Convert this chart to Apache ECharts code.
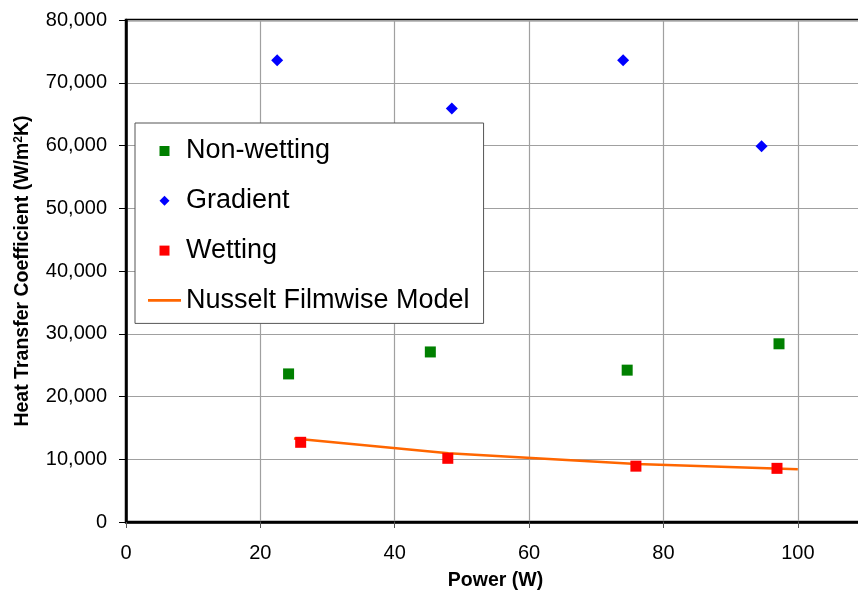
<!DOCTYPE html>
<html>
<head>
<meta charset="utf-8">
<script src="https://cdn.jsdelivr.net/npm/echarts@6/dist/echarts.min.js"></script>
<style>
html,body{margin:0;padding:0;background:#fff;overflow:hidden;width:858px;height:596px;}
#chart{width:880px;height:596px;}
</style>
</head>
<body>
<div id="chart"></div>
<script>
// Data
const nonWetting = [[24.2, 23600], [45.3, 27100], [74.6, 24200], [97.2, 28400]];
const gradient = [[22.5, 73600], [48.5, 65900], [74.0, 73600], [94.6, 59900]];
const wetting = [[26.0, 12700], [47.9, 10150], [75.9, 8900], [96.9, 8550]];
const nusselt = [[25, 13300], [48, 10950], [76, 9250], [100, 8400]];
const seriesNames = ['Non-wetting', 'Gradient', 'Wetting', 'Nusselt Filmwise Model'];
const xTitle = 'Power (W)';
const yTitle = 'Heat Transfer Coefficient (W/m{sup|2}K)';

const FONT = '"Liberation Sans", Arial, sans-serif';
const chart = echarts.init(document.getElementById('chart'), null, {renderer: 'canvas'});

function fmt(v) {
  return String(v).replace(/\B(?=(\d{3})+(?!\d))/g, ',');
}

const squarePath = 'path://M0,0L10,0L10,10L0,10Z';
const diamondPath = 'path://M5,0L10,5L5,10L0,5Z';
const linePath = 'path://M0,0L33,0L33,2.6L0,2.6Z';

chart.setOption({
  animation: false,
  backgroundColor: '#ffffff',
  grid: {
    left: 126, top: 20, width: 739, height: 503,
    show: true, borderColor: '#000', borderWidth: 2.5, backgroundColor: 'transparent'
  },
  legend: {
    orient: 'vertical',
    left: 135, top: 123,
    padding: [13, 14, 8, 13],
    itemWidth: 33, itemHeight: 10, itemGap: 19.8,
    borderColor: '#555', borderWidth: 1,
    backgroundColor: '#fff',
    symbolKeepAspect: true,
    textStyle: {fontFamily: FONT, fontSize: 27, color: '#000', lineHeight: 30},
    data: [
      {name: seriesNames[0], icon: squarePath, itemStyle: {color: '#008000', opacity: 1}},
      {name: seriesNames[1], icon: diamondPath, itemStyle: {color: '#0000ff', opacity: 1}},
      {name: seriesNames[2], icon: squarePath, itemStyle: {color: '#ff0000', opacity: 1}},
      {name: seriesNames[3], icon: linePath, itemStyle: {color: '#ff6600', opacity: 1}}
    ]
  },
  xAxis: {
    type: 'value', min: 0, max: 110, interval: 20,
    name: xTitle, nameLocation: 'middle', nameGap: 49,
    nameTextStyle: {fontFamily: FONT, fontSize: 19.5, fontWeight: 'bold', color: '#000'},
    axisLine: {show: true, onZero: false, lineStyle: {color: '#000', width: 2.5}},
    axisTick: {show: true, inside: false, length: 6, lineStyle: {color: '#555', width: 1}},
    axisLabel: {fontFamily: FONT, fontSize: 20, color: '#000', margin: 21, showMaxLabel: false},
    splitLine: {show: true, lineStyle: {color: '#a0a0a0', width: 1.2}}
  },
  yAxis: {
    type: 'value', min: 0, max: 80000, interval: 10000,
    name: yTitle, nameLocation: 'middle', nameGap: 93, nameRotate: 90,
    nameTextStyle: {
      fontFamily: FONT, fontSize: 19.5, fontWeight: 'bold', color: '#000',
      rich: {sup: {fontFamily: FONT, fontSize: 12, fontWeight: 'bold', color: '#000', verticalAlign: 'top', padding: [0, 0, 8, 0]}}
    },
    axisLine: {show: true, lineStyle: {color: '#000', width: 2.5}},
    axisTick: {show: true, inside: false, length: 7, lineStyle: {color: '#000', width: 1}},
    axisLabel: {fontFamily: FONT, fontSize: 20, color: '#000', margin: 19, formatter: fmt},
    splitLine: {show: true, lineStyle: {color: '#a0a0a0', width: 1.2}}
  },
  series: [
    {
      name: seriesNames[0], type: 'scatter', data: nonWetting,
      symbol: 'rect', symbolSize: 11, itemStyle: {color: '#008000', opacity: 1}, z: 3
    },
    {
      name: seriesNames[1], type: 'scatter', data: gradient,
      symbol: 'diamond', symbolSize: 12, itemStyle: {color: '#0000ff', opacity: 1}, z: 3
    },
    {
      name: seriesNames[2], type: 'scatter', data: wetting,
      symbol: 'rect', symbolSize: 11, itemStyle: {color: '#ff0000', opacity: 1}, z: 4
    },
    {
      name: seriesNames[3], type: 'line', data: nusselt,
      showSymbol: false, symbol: 'none', smooth: false,
      lineStyle: {color: '#ff6600', width: 2.6}, itemStyle: {color: '#ff6600'}, z: 3
    }
  ]
});
</script>
</body>
</html>
